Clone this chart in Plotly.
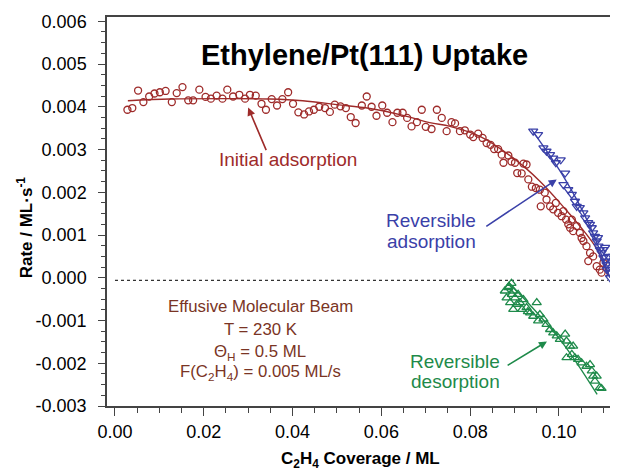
import plotly.graph_objects as go

# Initial adsorption (open circles)
init_x = [0.0028, 0.0039, 0.0052, 0.0064, 0.0077, 0.0089, 0.0101, 0.0114, 0.0128, 0.0139,
          0.0152, 0.0165, 0.0176, 0.0190, 0.0204, 0.0216, 0.0229, 0.0242, 0.0253, 0.0266,
          0.0280, 0.0293, 0.0304, 0.0317, 0.0330, 0.0340, 0.0353, 0.0365, 0.0377, 0.0390,
          0.0401, 0.0413, 0.0426, 0.0437, 0.0448, 0.0460, 0.0473, 0.0484, 0.0495, 0.0508,
          0.0520, 0.0531, 0.0542, 0.0556, 0.0567, 0.0578, 0.0589, 0.0602, 0.0613, 0.0625,
          0.0636, 0.0648, 0.0658, 0.0668, 0.0680, 0.0691, 0.0700, 0.0713, 0.0725, 0.0736,
          0.0747, 0.0758, 0.0766, 0.0777, 0.0788, 0.0800, 0.0807, 0.0818, 0.0828, 0.0837,
          0.0846, 0.0854, 0.0863, 0.0871, 0.0875, 0.0886, 0.0893, 0.0901, 0.0906, 0.0916,
          0.0920, 0.0927, 0.0931, 0.0939, 0.0948, 0.0957, 0.0959, 0.0968, 0.0972, 0.0980,
          0.0987, 0.0993, 0.0998, 0.1006, 0.1010, 0.1016, 0.1021, 0.1025, 0.1029, 0.1032,
          0.1040, 0.1047, 0.1051, 0.1055, 0.1062, 0.1066, 0.1070, 0.1077, 0.1085, 0.1092,
          0.1096, 0.1100]
init_y = [0.00393, 0.00397, 0.00438, 0.00411, 0.00424, 0.00431, 0.00434, 0.00437, 0.00411, 0.00432,
          0.00446, 0.00415, 0.00415, 0.00440, 0.00423, 0.00419, 0.00426, 0.00419, 0.00440, 0.00424,
          0.00428, 0.00419, 0.00428, 0.00426, 0.00407, 0.00393, 0.00418, 0.00403, 0.00418, 0.00434,
          0.00407, 0.00387, 0.00382, 0.00389, 0.00393, 0.00400, 0.00397, 0.00388, 0.00405, 0.00401,
          0.00397, 0.00376, 0.00362, 0.00403, 0.00424, 0.00400, 0.00379, 0.00403, 0.00386, 0.00364,
          0.00386, 0.00386, 0.00374, 0.00354, 0.00364, 0.00393, 0.00353, 0.00348, 0.00393, 0.00374,
          0.00343, 0.00364, 0.00361, 0.00343, 0.00345, 0.00335, 0.00329, 0.00337, 0.00327, 0.00315,
          0.00311, 0.00301, 0.00301, 0.00288, 0.00269, 0.00286, 0.00272, 0.00269, 0.00245, 0.00244,
          0.00267, 0.00265, 0.00230, 0.00213, 0.00210, 0.00206, 0.00167, 0.00199, 0.00183, 0.00167,
          0.00160, 0.00175, 0.00152, 0.00144, 0.00156, 0.00136, 0.00125, 0.00117, 0.00136, 0.00109,
          0.00121, 0.00105, 0.00093, 0.00086, 0.00074, 0.00039, 0.00058, 0.00050, 0.00027, 0.00019,
          0.00012, 0.00035]
init_fit_x = [0.0029, 0.0124, 0.0236, 0.0349, 0.0423, 0.0500, 0.0574, 0.0649, 0.0709, 0.0755,
              0.0822, 0.0896, 0.0957, 0.1009, 0.1047, 0.1086, 0.1110]
init_fit_y = [0.00414, 0.00418, 0.00419, 0.00418, 0.00414, 0.00405, 0.00396, 0.00380, 0.00363, 0.00354,
              0.00331, 0.00281, 0.00226, 0.00167, 0.00121, 0.00066, 0.00005]

# Reversible adsorption (open down-triangles)
rads_x = [0.0942, 0.0953, 0.0965, 0.0972, 0.0980, 0.0987, 0.0993, 0.1004, 0.1014, 0.1010,
          0.1021, 0.1029, 0.1036, 0.1040, 0.1047, 0.1055, 0.1059, 0.1066, 0.1074, 0.1077,
          0.1081, 0.1085, 0.1089, 0.1092, 0.1096, 0.1100, 0.1104, 0.1107, 0.1111, 0.1115,
          0.1115, 0.1119, 0.1121, 0.1111, 0.1100, 0.1088, 0.1104, 0.1070, 0.1108, 0.1120]
rads_y = [0.00343, 0.00335, 0.00304, 0.00296, 0.00288, 0.00280, 0.00269, 0.00276, 0.00245, 0.00218,
          0.00206, 0.00195, 0.00179, 0.00167, 0.00164, 0.00152, 0.00140, 0.00129, 0.00117, 0.00105,
          0.00097, 0.00086, 0.00074, 0.00066, 0.00058, 0.00047, 0.00039, 0.00031, 0.00023, 0.00012,
          0.00000, 0.00035, 0.00050, 0.00050, 0.00066, 0.00094, 0.00071, 0.00125, 0.00019, 0.00019]
rads_fit_x = [0.0938, 0.1010, 0.1066, 0.1115]
rads_fit_y = [0.00347, 0.00237, 0.00129, 0.00000]

# Reversible desorption (open up-triangles)
rdes_x = [0.0893, 0.0886, 0.0878, 0.0897, 0.0882, 0.0901, 0.0908, 0.0890, 0.0912, 0.0920,
          0.0897, 0.0927, 0.0950, 0.0935, 0.0942, 0.0957, 0.0965, 0.0953, 0.0972, 0.0980,
          0.0987, 0.0995, 0.1002, 0.1014, 0.1017, 0.1025, 0.1032, 0.1029, 0.1017, 0.1036,
          0.1043, 0.1051, 0.1062, 0.1070, 0.1074, 0.1077, 0.1085, 0.1081, 0.1092, 0.1096,
          0.0887, 0.0894, 0.0905, 0.0917, 0.0930]
rdes_y = [-0.00013, -0.00023, -0.00031, -0.00031, -0.00047, -0.00047, -0.00039, -0.00058, -0.00058, -0.00051,
          -0.00074, -0.00070, -0.00058, -0.00082, -0.00090, -0.00086, -0.00097, -0.00101, -0.00109, -0.00121,
          -0.00129, -0.00136, -0.00144, -0.00132, -0.00148, -0.00160, -0.00160, -0.00179, -0.00187, -0.00187,
          -0.00191, -0.00199, -0.00207, -0.00203, -0.00218, -0.00230, -0.00230, -0.00242, -0.00257, -0.00259,
          -0.00020, -0.00039, -0.00062, -0.00074, -0.00079]
rdes_fit_x = [0.0887, 0.1002, 0.1086]
rdes_fit_y = [-0.00011, -0.00144, -0.00273]

zero_x = [0.0, 0.1110]
zero_y = [-0.00006, -0.00006]

# Tick labels
y_tickvals = [-0.003, -0.002, -0.001, 0.0, 0.001, 0.002, 0.003, 0.004, 0.005, 0.006]
y_ticktext = ["-0.003", "-0.002", "-0.001", "0.000", "0.001", "0.002", "0.003", "0.004", "0.005", "0.006"]
x_tickvals = [0.0, 0.02, 0.04, 0.06, 0.08, 0.10]
x_ticktext = ["0.00", "0.02", "0.04", "0.06", "0.08", "0.10"]

RED = "#9e2b2a"
BLUE = "#3a40a8"
GREEN = "#1e8a4a"
BROWN = "#7a3424"
FONT = "Liberation Sans, Arial, sans-serif"

fig = go.Figure()
fig.add_trace(go.Scatter(x=zero_x, y=zero_y, mode="lines",
                         line=dict(color="#333333", width=1.2, dash="3px,3px"), showlegend=False))
fig.add_trace(go.Scatter(x=init_x, y=init_y, mode="markers",
                         marker=dict(symbol="circle-open", size=7, color=RED, line=dict(width=1.3)),
                         showlegend=False))
fig.add_trace(go.Scatter(x=init_fit_x, y=init_fit_y, mode="lines", line=dict(color=RED, width=1.4, shape="spline"),
                         showlegend=False))
fig.add_trace(go.Scatter(x=rads_x, y=rads_y, mode="markers",
                         marker=dict(symbol="triangle-down-open", size=8, color=BLUE, line=dict(width=1.3)),
                         showlegend=False))
fig.add_trace(go.Scatter(x=rads_fit_x, y=rads_fit_y, mode="lines", line=dict(color=BLUE, width=1.4, shape="spline"),
                         showlegend=False))
fig.add_trace(go.Scatter(x=rdes_x, y=rdes_y, mode="markers",
                         marker=dict(symbol="triangle-up-open", size=8, color=GREEN, line=dict(width=1.3)),
                         showlegend=False))
fig.add_trace(go.Scatter(x=rdes_fit_x, y=rdes_fit_y, mode="lines", line=dict(color=GREEN, width=1.4, shape="spline"),
                         showlegend=False))

def arrow(x, y, ax, ay, color):
    fig.add_annotation(x=x, y=y, ax=ax, ay=ay, xref="x", yref="y", axref="x", ayref="y",
                       text="", showarrow=True, arrowhead=2, arrowsize=1, arrowwidth=1.6,
                       arrowcolor=color)

def label(x, y, text, color, size):
    fig.add_annotation(x=x, y=y, xref="x", yref="y", text=text, showarrow=False,
                       font=dict(family=FONT, size=size, color=color), align="center")

arrow(0.0300, 0.00398, 0.0342, 0.00295, RED)
arrow(0.0995, 0.00230, 0.0833, 0.00118, BLUE)
arrow(0.0973, -0.00149, 0.0881, -0.00207, GREEN)

label(0.0390, 0.00276, "Initial adsorption", RED, 19)
label(0.0712, 0.00134, "Reversible", BLUE, 19)
label(0.0712, 0.00084, "adsorption", BLUE, 19)
label(0.0766, -0.00196, "Reversible", GREEN, 19)
label(0.0766, -0.00243, "desorption", GREEN, 19)
label(0.0327, -0.00067, "Effusive Molecular Beam", BROWN, 16.8)
label(0.0327, -0.00121, "T = 230 K", BROWN, 16.8)
label(0.0327, -0.00175, "Θ<sub>H</sub> = 0.5 ML", BROWN, 16.8)
label(0.0327, -0.00221, "F(C<sub>2</sub>H<sub>4</sub>) = 0.005 ML/s", BROWN, 16.8)

fig.add_annotation(x=0.0563, y=0.00522, xref="x", yref="y", showarrow=False,
                   text="<b>Ethylene/Pt(111) Uptake</b>",
                   font=dict(family=FONT, size=29, color="black"))

# axis titles
fig.add_annotation(x=-0.1605, y=0.00118, xref="paper", yref="y", showarrow=False, textangle=-90,
                   xanchor="center", yanchor="middle",
                   text="<b>Rate / ML·s<sup>-1</sup></b>", font=dict(family=FONT, size=17, color="black"))
fig.add_annotation(x=0.0552, y=-0.1388, xref="x", yref="paper", showarrow=False,
                   xanchor="center", yanchor="middle",
                   text="<b>C<sub>2</sub>H<sub>4</sub> Coverage / ML</b>", font=dict(family=FONT, size=17, color="black"))

# The page body has an 8px default margin; the figure is sized to fit the window after it.
fig.update_layout(
    width=610, height=464,
    margin=dict(l=99, r=0, t=9, b=66, autoexpand=False),
    paper_bgcolor="white", plot_bgcolor="white",
    font=dict(family=FONT, color="black"),
    xaxis=dict(range=[-0.0018, 0.1133], showgrid=False, zeroline=False, automargin=False,
               showline=True, linecolor="#444444", linewidth=1.5, mirror=True,
               ticks="outside", ticklen=8, tickwidth=1.3, tickcolor="#444444",
               tickmode="array", tickvals=x_tickvals, ticktext=x_ticktext,
               tickfont=dict(family=FONT, size=18), ticklabelstandoff=1,
               minor=dict(ticks="outside", ticklen=5, tickwidth=1.2, tickcolor="#444444", dtick=0.005, tick0=0)),
    yaxis=dict(range=[-0.003, 0.0061], showgrid=False, zeroline=False, automargin=False,
               showline=True, linecolor="#444444", linewidth=1.5,
               ticks="outside", ticklen=7, tickwidth=1.3, tickcolor="#444444",
               tickmode="array", tickvals=y_tickvals, ticktext=y_ticktext,
               tickfont=dict(family=FONT, size=18), ticklabelstandoff=8,
               minor=dict(ticks="outside", ticklen=4, tickwidth=1.2, tickcolor="#444444", dtick=0.00025, tick0=0)),
)

fig.write_html("out.html")
